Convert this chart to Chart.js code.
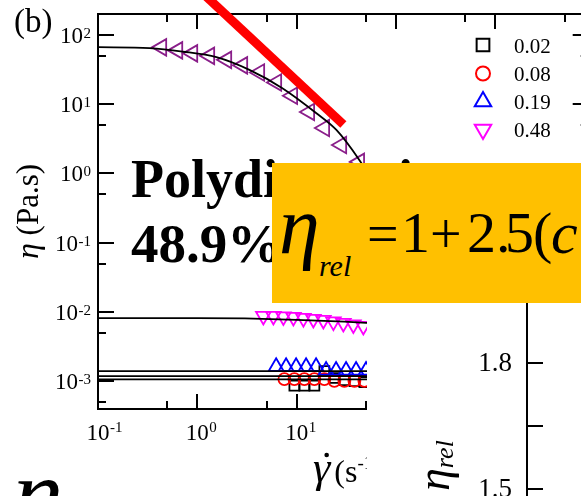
<!DOCTYPE html>
<html>
<head>
<meta charset="utf-8">
<script src="https://cdn.jsdelivr.net/npm/chart.js@4/dist/chart.umd.min.js"></script>
<style>
  html, body { margin: 0; padding: 0; background: #fff; }
  #stage { position: relative; width: 581px; height: 496px; overflow: hidden; background: #fff; }
  #main { position: absolute; left: 0; top: 0; }
  #side { position: absolute; left: 367px; top: 200px; background: #fff; }
  #box { position: absolute; left: 272px; top: 163px; width: 340px; height: 140px; background: #ffc000; }
  .t { position: absolute; white-space: nowrap; color: #000;
       font-family: "Liberation Serif", "Times New Roman", serif; }
</style>
</head>
<body>
<div id="stage">
  <canvas id="main" width="600" height="496"></canvas>
  <div id="notes"></div>
  <canvas id="side" width="214" height="350"></canvas>
  <div id="box"></div>
  <div id="formula"></div>
</div>
<script>
// ---- viscosity curves: shear rate (1/s) vs viscosity (Pa.s) ----
const seriesLabels = ['0.02', '0.08', '0.19', '0.48'];

// 0.48, high-viscosity branch (left-pointing triangles) and its fit
const rateHigh = [0.435, 0.631, 0.893, 1.323, 1.963, 2.843, 4.214, 6.249, 9.05, 13.42, 19.0, 28.2, 42.7];
const etaHigh  = [66.0, 59.7, 54.1, 49.8, 43.6, 36.3, 28.7, 20.6, 13.2, 7.73, 4.54, 2.58, 1.47];
const fitHighRate = [0.1, 0.330, 0.708, 1.556, 3.343, 7.18, 15.8, 25.1, 42.7, 76.3];
const fitHighEta  = [66.4, 64.3, 57.4, 47.6, 31.2, 17.0, 7.40, 4.25, 1.57, 0.415];

// power-law guide line
const slopeRate = [1.0, 29.5];
const slopeEta  = [471, 5.10];

// 0.48 dilute branch (down triangles) and its fit
const rate048 = [4.62, 5.83, 7.35, 9.27, 11.68, 14.72, 18.56, 23.4, 29.5, 37.2, 46.9];
const eta048  = [0.00877, 0.00877, 0.00863, 0.00848, 0.00820, 0.00794, 0.00768, 0.00730, 0.00695, 0.00661, 0.00629];
const fit048Rate = [0.1, 1, 3, 10, 30, 50, 100];
const fit048Eta  = [0.00819, 0.00819, 0.00812, 0.0077, 0.0073, 0.0070, 0.0066];

// 0.19 (up triangles)
const rate019 = [6.21, 7.82, 9.86, 12.43, 15.67, 19.76, 24.91, 31.4, 39.6, 49.9];
const eta019  = [0.00163, 0.00163, 0.00163, 0.00163, 0.00163, 0.00144, 0.00144, 0.00144, 0.00144, 0.00144];

// 0.08 (circles)
const rate008 = [7.52, 9.48, 11.95, 15.07, 19.0, 23.95, 30.2, 38.1, 48.0];
const eta008  = [0.00108, 0.00108, 0.00108, 0.00108, 0.00108, 0.00102, 0.00102, 0.00102, 0.00102];

// 0.02 (squares)
const rate002 = [9.48, 11.95, 15.07, 19.0, 23.95, 30.2, 38.1, 48.0];
const eta002  = [0.000869, 0.000869, 0.000869, 0.00141, 0.00112, 0.00104, 0.00101, 0.000977];

// Newtonian fits of the dilute samples
const fitFlatRate = [0.1, 100];
const fit019Eta = [0.00141, 0.00141];
const fit008Eta = [0.00119, 0.00119];
const fit002Eta = [0.00107, 0.00107];

// axis decades (labels 10^n) and minor ticks at 5x10^n
const xTickExps = [-1, 0, 1, 2, 3];
const yTickExps = [-3, -2, -1, 0, 1, 2];
const minorFactor = 5;

// relative viscosity axis of the side panel
const relTicks  = [1.5, 1.65, 1.8, 1.95, 2.1];
const relLabels = ['1.5', '', '1.8', '', '2.1'];

const SERIF = '"Liberation Serif", "Times New Roman", serif';
const pts = (xs, ys) => xs.map((v, i) => ({ x: v, y: ys[i] }));

function drawMark(ctx, style, x, y, r, rotation, color, lw) {
  ctx.save();
  ctx.strokeStyle = color;
  ctx.lineWidth = lw;
  ctx.beginPath();
  if (style === 'rect') {
    const s = r * Math.SQRT1_2;
    ctx.rect(x - s, y - s, 2 * s, 2 * s);
  } else if (style === 'circle') {
    ctx.arc(x, y, r, 0, Math.PI * 2);
  } else {
    let a = rotation * Math.PI / 180;
    ctx.moveTo(x + Math.sin(a) * r, y - Math.cos(a) * r);
    a += Math.PI * 2 / 3;
    ctx.lineTo(x + Math.sin(a) * r, y - Math.cos(a) * r);
    a += Math.PI * 2 / 3;
    ctx.lineTo(x + Math.sin(a) * r, y - Math.cos(a) * r);
    ctx.closePath();
  }
  ctx.stroke();
  ctx.restore();
}

// draws a run of text pieces; each piece: {t, size, italic, dy, gap}
function drawRun(ctx, parts, x, y) {
  let cx = x;
  for (const p of parts) {
    cx += p.gap || 0;
    ctx.font = (p.italic ? 'italic ' : '') + p.size + 'px ' + SERIF;
    ctx.fillText(p.t, cx, y + (p.dy || 0));
    cx += ctx.measureText(p.t).width;
  }
  return cx - x;
}
function runWidth(ctx, parts) {
  let w = 0;
  for (const p of parts) {
    ctx.font = (p.italic ? 'italic ' : '') + p.size + 'px ' + SERIF;
    w += ctx.measureText(p.t).width + (p.gap || 0);
  }
  return w;
}

const legendRows = [
  { style: 'rect', rot: 0, color: '#000000', r: 9 },
  { style: 'circle', rot: 0, color: '#ff0000', r: 7 },
  { style: 'triangle', rot: 0, color: '#0000ff', r: 9.5 },
  { style: 'triangle', rot: 180, color: '#ff00ff', r: 9.5 }
];

const mainAxes = {
  id: 'mainAxes',
  beforeDatasetsDraw(chart) {
    const { ctx, chartArea: a, scales: { x, y } } = chart;
    ctx.save();
    ctx.strokeStyle = '#000';
    ctx.lineWidth = 2;
    ctx.strokeRect(a.left, a.top, a.right - a.left, a.bottom - a.top);
    ctx.beginPath();
    const seg = (x0, y0, x1, y1) => { ctx.moveTo(x0, y0); ctx.lineTo(x1, y1); };
    const xTicks = [];
    xTickExps.forEach(e => { xTicks.push([10 ** e, 15]); xTicks.push([minorFactor * 10 ** e, 8]); });
    xTicks.forEach(([v, len]) => {
      if (v < x.min || v > x.max) return;
      const px = Math.round(x.getPixelForValue(v));
      seg(px, a.bottom, px, a.bottom - len);
      seg(px, a.top, px, a.top + len);
    });
    const yTicks = [];
    yTickExps.forEach(e => { yTicks.push([10 ** e, 16]); yTicks.push([minorFactor * 10 ** (e - 1), 8]); });
    yTicks.push([minorFactor * 10 ** yTickExps[yTickExps.length - 1], 8]);
    yTicks.forEach(([v, len]) => {
      if (v < y.min || v > y.max) return;
      const py = Math.round(y.getPixelForValue(v));
      seg(a.left, py, a.left + len, py);
      seg(a.right, py, a.right - len, py);
    });
    ctx.stroke();
    ctx.restore();
  },
  afterDraw(chart) {
    const { ctx, chartArea: a, scales: { x, y } } = chart;
    ctx.save();
    ctx.fillStyle = '#000';
    ctx.textBaseline = 'alphabetic';

    // bottom tick labels: "10" centred on the tick, exponent to its right
    xTickExps.forEach(e => {
      const px = x.getPixelForValue(10 ** e);
      ctx.font = '23px ' + SERIF;
      const w = ctx.measureText('10').width;
      ctx.textAlign = 'center';
      ctx.fillText('10', px, 440);
      ctx.textAlign = 'left';
      ctx.font = '15px ' + SERIF;
      ctx.fillText(String(e), px + w / 2 + 0.5, 432);
    });

    // left tick labels, right-aligned against the axis
    yTickExps.forEach(e => {
      const py = y.getPixelForValue(10 ** e);
      ctx.font = '15px ' + SERIF;
      const ew = ctx.measureText(String(e)).width;
      const xr = 91;
      ctx.textAlign = 'left';
      ctx.fillText(String(e), xr - ew, py + 3);
      ctx.font = '23px ' + SERIF;
      ctx.textAlign = 'right';
      ctx.fillText('10', xr - ew - 0.5, py + 8);
    });

    // y title
    ctx.save();
    ctx.translate(38, (a.top + a.bottom) / 2);
    ctx.rotate(-Math.PI / 2);
    ctx.textAlign = 'left';
    const yt = [{ t: 'η', size: 32, italic: true }, { t: ' (Pa.s)', size: 31 }];
    drawRun(ctx, yt, -runWidth(ctx, yt) / 2, 0);
    ctx.restore();

    // x title with dotted gamma
    ctx.textAlign = 'left';
    const xt = [
      { t: 'γ', size: 44, italic: true },
      { t: '(s', size: 32, gap: 4 },
      { t: '-1', size: 19, dy: -13 },
      { t: ')', size: 32 }
    ];
    const x0 = 313;
    drawRun(ctx, xt, x0, 482);
    ctx.font = 'italic 44px ' + SERIF;
    const gw = ctx.measureText('γ').width;
    ctx.beginPath();
    ctx.arc(x0 + gw / 2 + 5, 455, 2.3, 0, Math.PI * 2);
    ctx.fill();

    // panel letter
    ctx.font = '33px ' + SERIF;
    ctx.fillText('(b)', 14, 32);

    // legend
    const rows = [45, 73.5, 101.5, 129.5];
    legendRows.forEach((m, i) => {
      drawMark(ctx, m.style, 483, rows[i], m.r, m.rot, m.color, 2);
      ctx.fillStyle = '#000';
      ctx.font = '21px ' + SERIF;
      ctx.textAlign = 'left';
      ctx.fillText(seriesLabels[i], 514, rows[i] + 7.5);
    });
    ctx.restore();
  }
};

const line = (data, color, width) => ({
  data, showLine: true, pointRadius: 0, borderColor: color, borderWidth: width,
  backgroundColor: color, fill: false
});
const marks = (data, style, rot, r, color) => ({
  data, showLine: false, pointStyle: style, rotation: rot, pointRadius: r,
  pointBorderWidth: 1.8, borderColor: color, backgroundColor: 'rgba(0,0,0,0)'
});

new Chart(document.getElementById('main'), {
  type: 'scatter',
  data: {
    datasets: [
      Object.assign(line(pts(slopeRate, slopeEta), '#ff0000', 9), { clip: false, borderCapStyle: 'butt' }),
      Object.assign(line(pts(fitHighRate, fitHighEta), '#000000', 1.8), { cubicInterpolationMode: 'monotone' }),
      line(pts(fit048Rate, fit048Eta), '#000000', 1.8),
      line(pts(fitFlatRate, fit019Eta), '#000000', 1.8),
      line(pts(fitFlatRate, fit008Eta), '#000000', 1.8),
      line(pts(fitFlatRate, fit002Eta), '#000000', 1.8),
      marks(pts(rateHigh, etaHigh), 'triangle', 270, 9.5, '#8a1f8a'),
      marks(pts(rate048, eta048), 'triangle', 180, 8.5, '#ff00ff'),
      marks(pts(rate019, eta019), 'triangle', 0, 8.5, '#0000ff'),
      marks(pts(rate008, eta008), 'circle', 0, 6, '#ff0000'),
      marks(pts(rate002, eta002), 'rect', 0, 7, '#000000')
    ]
  },
  options: {
    responsive: false,
    animation: false,
    events: [],
    layout: { padding: { left: 98, right: 11, top: 14, bottom: 87 } },
    scales: {
      x: { type: 'logarithmic', min: 0.1, max: 8700, display: false },
      y: { type: 'logarithmic', min: 4e-4, max: 200, display: false }
    },
    plugins: { legend: { display: false }, tooltip: { enabled: false } }
  },
  plugins: [mainAxes]
});

// ---- side panel: relative viscosity axis ----
const sideAxis = {
  id: 'sideAxis',
  afterDraw(chart) {
    const { ctx, chartArea: a, scales: { y } } = chart;
    ctx.save();
    ctx.strokeStyle = '#000';
    ctx.fillStyle = '#000';
    ctx.lineWidth = 2;
    ctx.beginPath();
    ctx.moveTo(a.left, a.top);
    ctx.lineTo(a.left, a.bottom);
    relTicks.forEach(v => {
      const py = Math.round(y.getPixelForValue(v));
      ctx.moveTo(a.left, py);
      ctx.lineTo(a.left + 16, py);
    });
    ctx.stroke();
    ctx.font = '27px ' + SERIF;
    ctx.textAlign = 'right';
    ctx.textBaseline = 'middle';
    relTicks.forEach((v, i) => {
      if (relLabels[i]) ctx.fillText(relLabels[i], a.left - 15, y.getPixelForValue(v) + 1);
    });
    ctx.textBaseline = 'alphabetic';
    ctx.textAlign = 'left';
    ctx.translate(a.left - 78, 291);
    ctx.rotate(-Math.PI / 2);
    drawRun(ctx, [{ t: 'η', size: 46, italic: true }, { t: 'rel', size: 26, italic: true, dy: 4 }], 0, 0);
    ctx.restore();
  }
};

new Chart(document.getElementById('side'), {
  type: 'scatter',
  data: { datasets: [{ data: [] }] },
  options: {
    responsive: false,
    animation: false,
    events: [],
    layout: { padding: { left: 160, right: 0, top: 0, bottom: 0 } },
    scales: {
      x: { type: 'linear', min: 0, max: 1, display: false },
      y: { type: 'linear', min: 1.3544, max: 2.1897, display: false }
    },
    plugins: { legend: { display: false }, tooltip: { enabled: false } }
  },
  plugins: [sideAxis]
});

// ---- text placed on the page by baseline ----
function place(parent, text, o) {
  const d = document.createElement('div');
  d.className = 't';
  d.textContent = text;
  d.style.fontSize = o.size + 'px';
  d.style.lineHeight = o.size + 'px';
  d.style.left = o.left + 'px';
  d.style.top = (o.baseline - 0.8375 * o.size) + 'px';
  if (o.italic) d.style.fontStyle = 'italic';
  if (o.bold) d.style.fontWeight = 'bold';
  parent.appendChild(d);
}
const notes = document.getElementById('notes');
place(notes, 'Polydispersity', { left: 131, baseline: 197, size: 54, bold: true });
place(notes, '48.9%', { left: 131, baseline: 262, size: 55, bold: true });

const formula = document.getElementById('formula');
place(formula, 'η', { left: 279, baseline: 254, size: 82, italic: true });
place(formula, 'rel', { left: 319, baseline: 276, size: 30, italic: true });
place(formula, '=', { left: 367, baseline: 253, size: 56 });
place(formula, '1', { left: 401, baseline: 253, size: 58 });
place(formula, '+', { left: 430, baseline: 253, size: 56 });
place(formula, '2', { left: 467, baseline: 253, size: 58 });
place(formula, '.', { left: 496, baseline: 253, size: 58 });
place(formula, '5', { left: 505, baseline: 253, size: 58 });
place(formula, '(', { left: 533, baseline: 253, size: 58 });
place(formula, 'c', { left: 551, baseline: 253, size: 60, italic: true });
place(formula, 'η', { left: 13, baseline: 528, size: 100, italic: true });
</script>
</body>
</html>
